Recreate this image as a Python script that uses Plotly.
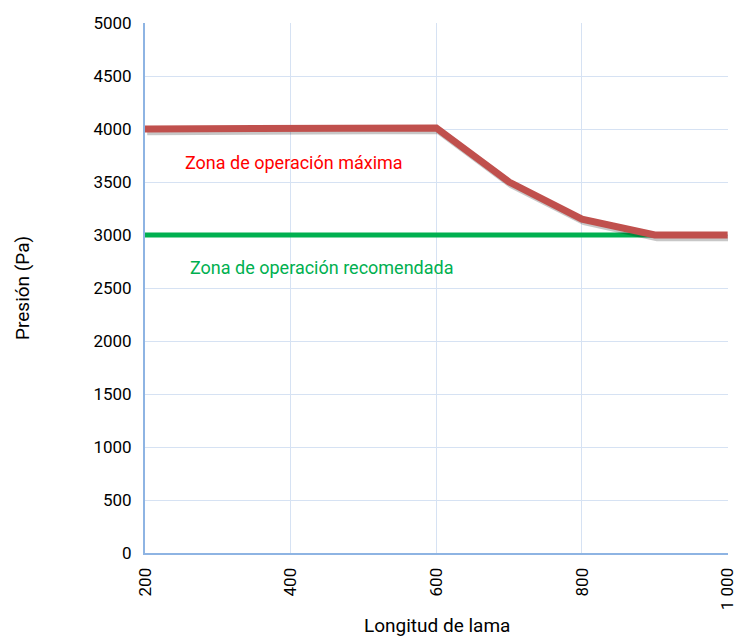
import plotly.graph_objects as go

# Data
x_max = [200, 500, 600, 700, 800, 900, 1000]
y_max = [4000, 4000, 4010, 3500, 3150, 3000, 3000]
x_rec = [200, 900]
y_rec = [3000, 3000]
x_ticks = [200, 400, 600, 800, 1000]
x_ticktext = ["200", "400", "600", "800", "1 000"]
y_ticks = [0, 500, 1000, 1500, 2000, 2500, 3000, 3500, 4000, 4500, 5000]

FONT = "Roboto, sans-serif"

fig = go.Figure()
fig.add_trace(go.Scatter(x=x_rec, y=y_rec, mode="lines",
                         line=dict(color="#00B050", width=5), showlegend=False, hoverinfo="skip"))
# shadow
fig.add_trace(go.Scatter(x=[v + 3 for v in x_max], y=[v - 25 for v in y_max], mode="lines",
                         line=dict(color="rgba(0,0,0,0.22)", width=7), showlegend=False, hoverinfo="skip"))
fig.add_trace(go.Scatter(x=x_max, y=y_max, mode="lines",
                         line=dict(color="#C0504D", width=7), showlegend=False))

fig.add_annotation(x=252, y=3680, xref="x", yref="y", text="Zona de operación máxima",
                   showarrow=False, xanchor="left", font=dict(family=FONT, size=18, color="#FF0000"))
fig.add_annotation(x=259, y=2690, xref="x", yref="y", text="Zona de operación recomendada",
                   showarrow=False, xanchor="left", font=dict(family=FONT, size=18, color="#00B050"))

# axis titles
fig.add_annotation(x=0.5, y=0.0, xref="paper", yref="paper", yshift=-72, text="Longitud de lama",
                   showarrow=False, xanchor="center", yanchor="middle",
                   font=dict(family=FONT, size=19, color="#000000"))
fig.add_annotation(x=0, y=0.5, xref="paper", yref="paper", xshift=-123, text="Presión (Pa)",
                   showarrow=False, xanchor="center", yanchor="middle", textangle=-90,
                   font=dict(family=FONT, size=19, color="#000000"))

fig.update_layout(
    width=737, height=638,
    margin=dict(l=145, r=9, t=23, b=85, autoexpand=False),
    paper_bgcolor="white", plot_bgcolor="white",
    font=dict(family=FONT, size=17, color="#000000"),
)
fig.update_xaxes(range=[200, 1000.5], tickvals=x_ticks, ticktext=x_ticktext, tickangle=-90,
                 showgrid=True, gridcolor="#D6E2F3", gridwidth=1, automargin=False,
                 showline=True, linecolor="#8EB4E3", linewidth=2, zeroline=False,
                 ticks="outside", ticklen=6, tickcolor="rgba(0,0,0,0)",
                 tickfont=dict(size=17), ticklabeloverflow="allow")
fig.update_yaxes(range=[0, 5000], tickvals=y_ticks,
                 showgrid=True, gridcolor="#D6E2F3", gridwidth=1, automargin=False,
                 showline=True, linecolor="#8EB4E3", linewidth=2, zeroline=False,
                 ticks="outside", ticklen=8, tickcolor="rgba(0,0,0,0)", tickfont=dict(size=17))

fig.write_html("out.html", config={"displayModeBar": False},
               post_script="document.body.style.margin='0';document.body.style.overflow='hidden';")
